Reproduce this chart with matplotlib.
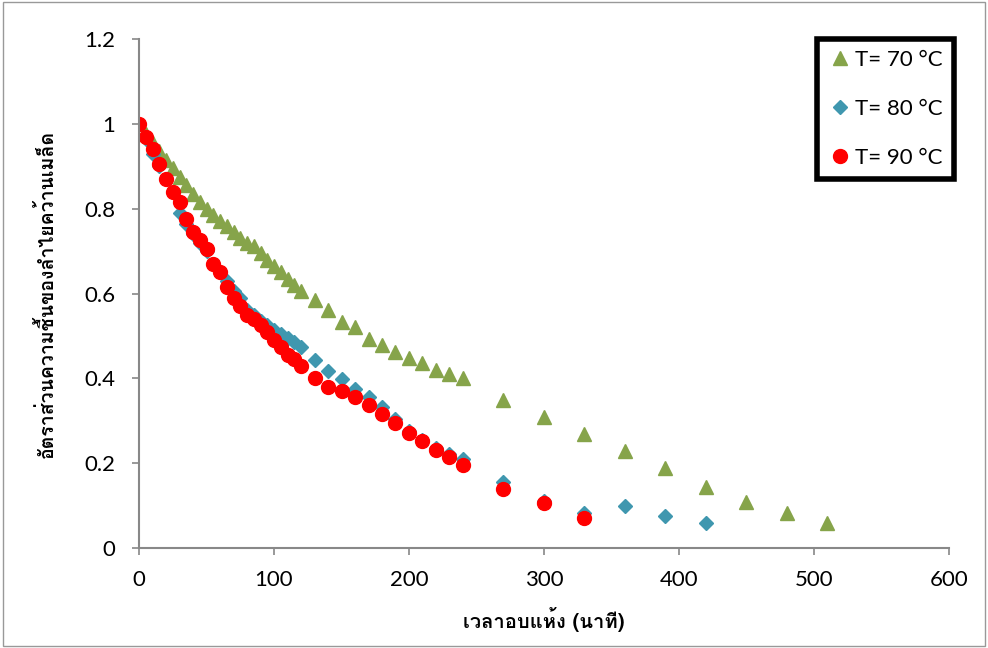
import matplotlib
matplotlib.use("Agg")
import matplotlib.pyplot as plt
from matplotlib import font_manager, ft2font
from matplotlib.patches import Rectangle

# drying time (minutes) and moisture ratio
x70 = [0, 5, 10, 15, 20, 25, 30, 35, 40, 45, 50, 55, 60, 65, 70, 75, 80, 85, 90, 95,
       100, 105, 110, 115, 120, 130, 140, 150, 160, 170, 180, 190, 200, 210, 220, 230,
       240, 270, 300, 330, 360, 390, 420, 450, 480, 510]
y70 = [1.0, 0.975, 0.955, 0.935, 0.915, 0.895, 0.875, 0.855, 0.835, 0.815, 0.8, 0.785,
       0.77, 0.76, 0.745, 0.73, 0.72, 0.712, 0.695, 0.68, 0.665, 0.65, 0.635, 0.62, 0.605,
       0.585, 0.56, 0.533, 0.52, 0.493, 0.478, 0.463, 0.447, 0.437, 0.42, 0.41, 0.40,
       0.35, 0.31, 0.268, 0.228, 0.188, 0.145, 0.108, 0.083, 0.058]

x80 = [0, 5, 10, 15, 20, 25, 30, 35, 40, 45, 50, 55, 60, 65, 70, 75, 80, 85, 90, 95,
       100, 105, 110, 115, 120, 130, 140, 150, 160, 170, 180, 190, 200, 210, 220, 230,
       240, 270, 300, 330, 360, 390, 420]
y80 = [1.0, 0.965, 0.93, 0.9, 0.87, 0.84, 0.79, 0.765, 0.74, 0.72, 0.7, 0.67, 0.65,
       0.63, 0.605, 0.59, 0.56, 0.55, 0.535, 0.525, 0.515, 0.505, 0.495, 0.485, 0.475,
       0.443, 0.418, 0.398, 0.375, 0.357, 0.332, 0.305, 0.275, 0.255, 0.235, 0.222, 0.21,
       0.155, 0.11, 0.082, 0.1, 0.075, 0.058]

x90 = [0, 5, 10, 15, 20, 25, 30, 35, 40, 45, 50, 55, 60, 65, 70, 75, 80, 85, 90, 95,
       100, 105, 110, 115, 120, 130, 140, 150, 160, 170, 180, 190, 200, 210, 220, 230,
       240, 270, 300, 330]
y90 = [1.0, 0.97, 0.94, 0.905, 0.87, 0.84, 0.815, 0.775, 0.745, 0.725, 0.705, 0.67,
       0.65, 0.615, 0.59, 0.57, 0.55, 0.54, 0.525, 0.51, 0.49, 0.475, 0.455, 0.445, 0.43,
       0.4, 0.38, 0.37, 0.355, 0.338, 0.315, 0.295, 0.272, 0.252, 0.232, 0.215, 0.195,
       0.14, 0.107, 0.07]

xlabel = "เวลาอบแห้ง (นาที)"
ylabel = "อัตราส่วนความชื้นของลำไยคว้านเมล็ด"


def thai_font():
    # find any installed font that has Thai glyphs
    for f in font_manager.fontManager.ttflist:
        try:
            if 0x0E01 in ft2font.FT2Font(f.fname).get_charmap():
                return f.name
        except Exception:
            pass
    return "DejaVu Sans"


thai = thai_font()
plt.rcParams['font.family'] = ['Lato', 'DejaVu Sans']

fig = plt.figure(figsize=(9.88, 6.48), dpi=100)
ax = fig.add_axes([0.1407, 0.1543, 0.8198, 0.7855])

ax.plot(x70, y70, linestyle='none', marker='^', markersize=10, color='#86A44A',
        label='T= 70 °C')
ax.plot(x80, y80, linestyle='none', marker='D', markersize=7, color='#3F97AF',
        label='T= 80 °C')
ax.plot(x90, y90, linestyle='none', marker='o', markersize=10, color='#FF0000',
        label='T= 90 °C')

ax.set_xlim(0, 600)
ax.set_ylim(0, 1.2)
ax.set_xticks(range(0, 601, 100))
ax.set_yticks([0, 0.2, 0.4, 0.6, 0.8, 1, 1.2])
ax.set_yticklabels(['0', '0.2', '0.4', '0.6', '0.8', '1', '1.2'])
ax.tick_params(labelsize=16, color='#888888', length=5, width=1.2)
ax.tick_params(axis='x', pad=11)
ax.tick_params(axis='y', pad=12)
for s in ['top', 'right']:
    ax.spines[s].set_visible(False)
for s in ['left', 'bottom']:
    ax.spines[s].set_color('#888888')
    ax.spines[s].set_linewidth(1.5)

ax.set_xlabel(xlabel, family=[thai, 'DejaVu Sans'], fontsize=14.5, fontweight='bold',
              labelpad=12)
ax.set_ylabel(ylabel, family=[thai, 'DejaVu Sans'], fontsize=14, fontweight='bold',
              labelpad=20)

leg = ax.legend(loc='upper right', bbox_to_anchor=(1.006, 1.0), fontsize=16,
                frameon=True, fancybox=False, framealpha=1, handletextpad=0.2,
                labelspacing=1.3, borderpad=0.5, borderaxespad=0,
                handlelength=1.0)
leg.get_frame().set_edgecolor('black')
leg.get_frame().set_linewidth(4)

fig.patches.append(Rectangle((0.003, 0.003), 0.994, 0.994, transform=fig.transFigure,
                             fill=False, edgecolor='#999999', linewidth=1))

fig.savefig('out.png', dpi=100)
